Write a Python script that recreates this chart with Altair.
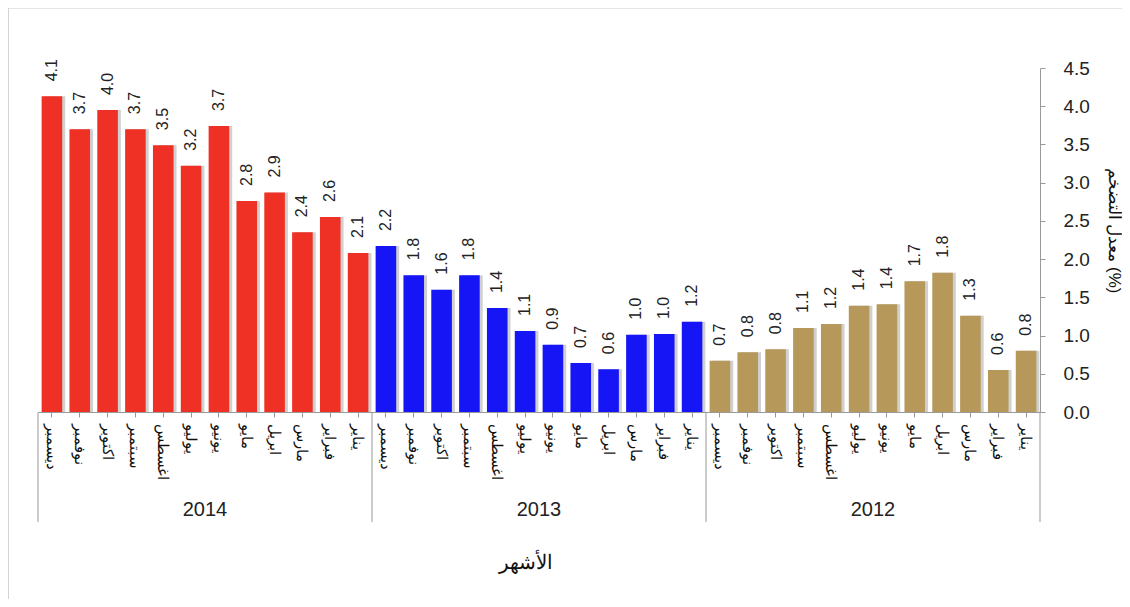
import altair as alt
import pandas as pd

months = ["ديسمبر", "نوفمبر", "اكتوبر", "سبتمبر", "اغسطس", "يوليو",
          "يونيو", "مايو", "ابريل", "مارس", "فبراير", "يناير"]
years = ["2014", "2013", "2012"]

values_2014 = [4.13, 3.70, 3.95, 3.70, 3.49, 3.22, 3.74, 2.76, 2.87, 2.35, 2.55, 2.08]
labels_2014 = ["4.1", "3.7", "4.0", "3.7", "3.5", "3.2", "3.7", "2.8", "2.9", "2.4", "2.6", "2.1"]
values_2013 = [2.17, 1.79, 1.60, 1.79, 1.36, 1.06, 0.88, 0.64, 0.56, 1.01, 1.02, 1.18]
labels_2013 = ["2.2", "1.8", "1.6", "1.8", "1.4", "1.1", "0.9", "0.7", "0.6", "1.0", "1.0", "1.2"]
values_2012 = [0.67, 0.78, 0.82, 1.10, 1.15, 1.39, 1.41, 1.71, 1.82, 1.26, 0.55, 0.80]
labels_2012 = ["0.7", "0.8", "0.8", "1.1", "1.2", "1.4", "1.4", "1.7", "1.8", "1.3", "0.6", "0.8"]

year_colors = ["#EE3124", "#1515F5", "#B5985A"]

rows = []
for yr, vals, labs in zip(years, [values_2014, values_2013, values_2012],
                          [labels_2014, labels_2013, labels_2012]):
    for m, v, l in zip(months, vals, labs):
        rows.append({"key": f"{m}|{yr}", "month": m, "year": yr, "value": v, "label": l})
df = pd.DataFrame(rows)
order = list(df["key"])

xscale = alt.Scale(domain=order, paddingInner=0, paddingOuter=0)
yscale = alt.Scale(domain=[0, 4.5], nice=False)

x_axis = alt.Axis(
    labelExpr="split(datum.label, '|')[0]",
    labelAngle=90, labelFontSize=15, labelPadding=6, labelColor="#111",
    tickSize=5, tickColor="#999", domainColor="#999",
    title="الأشهر", titleFontSize=20, titleFontWeight="normal",
    titleColor="#111", titleX=487, titleY=150,
    titleBaseline="middle", titleAlign="center",
)
y_axis = alt.Axis(
    orient="right", values=[0, 0.5, 1, 1.5, 2, 2.5, 3, 3.5, 4, 4.5],
    format=".1f", grid=False, tickSize=5, tickColor="#999",
    domainColor="#999", labelFontSize=19, labelPadding=18,
    labelColor="#222",
    title="معدل التضخم (%)", titleFontSize=17, titleFontWeight="normal",
    titleColor="#111", titleAngle=90, titleX=73, titleY=162,
    titleBaseline="middle", titleAlign="center",
)


def xenc(band=0.5):
    return alt.X("key:N", scale=xscale, axis=x_axis, bandPosition=band)


def yenc():
    return alt.Y("value:Q", scale=yscale, axis=y_axis)


base = alt.Chart(df)

shadow = base.mark_bar(width={"band": 0.74}, xOffset=3, color="#b0b0b0",
                       opacity=0.6).encode(x=xenc(), y=yenc())

bars = base.mark_bar(width={"band": 0.74}).encode(
    x=xenc(),
    y=yenc(),
    color=alt.Color("year:N", scale=alt.Scale(domain=years, range=year_colors),
                    legend=None),
)

value_text = base.mark_text(angle=270, align="left", baseline="middle", dx=15,
                            fontSize=16, color="#222").encode(
    x=xenc(), y=yenc(), text="label:N",
)

year_df = pd.DataFrame({"year": years,
                        "key": [f"{months[6]}|{y}" for y in years]})
year_text = alt.Chart(year_df).mark_text(fontSize=20, color="#222",
                                         baseline="middle").encode(
    x=xenc(0), y=alt.value(442), text="year:N",
)

sep_df = pd.DataFrame({"key": [f"{months[0]}|{y}" for y in years]})
seps = alt.Chart(sep_df).mark_rule(color="#999", strokeWidth=1).encode(
    x=xenc(0), y=alt.value(344), y2=alt.value(454),
)
sep_end_df = pd.DataFrame({"key": [f"{months[-1]}|{years[-1]}"]})
sep_end = alt.Chart(sep_end_df).mark_rule(color="#999", strokeWidth=1).encode(
    x=xenc(1), y=alt.value(344), y2=alt.value(454),
)

frame_df = pd.DataFrame({"a": [0]})
frame_left = alt.Chart(frame_df).mark_rule(color="#aaa").encode(
    x=alt.value(-30), y=alt.value(-60), y2=alt.value(531))
frame_top = alt.Chart(frame_df).mark_rule(color="#ccc").encode(
    x=alt.value(-30), x2=alt.value(1084), y=alt.value(-60))

chart = alt.layer(
    shadow, bars, value_text, year_text, seps, sep_end, frame_left, frame_top
).properties(
    width=1002, height=344,
    autosize=alt.AutoSizeParams(type="none"),
    padding={"left": 30, "top": 60, "right": 82, "bottom": 187},
).configure(font="Arial").configure_view(stroke=None)

chart.save("out.html", embed_options={"renderer": "svg", "actions": False})
